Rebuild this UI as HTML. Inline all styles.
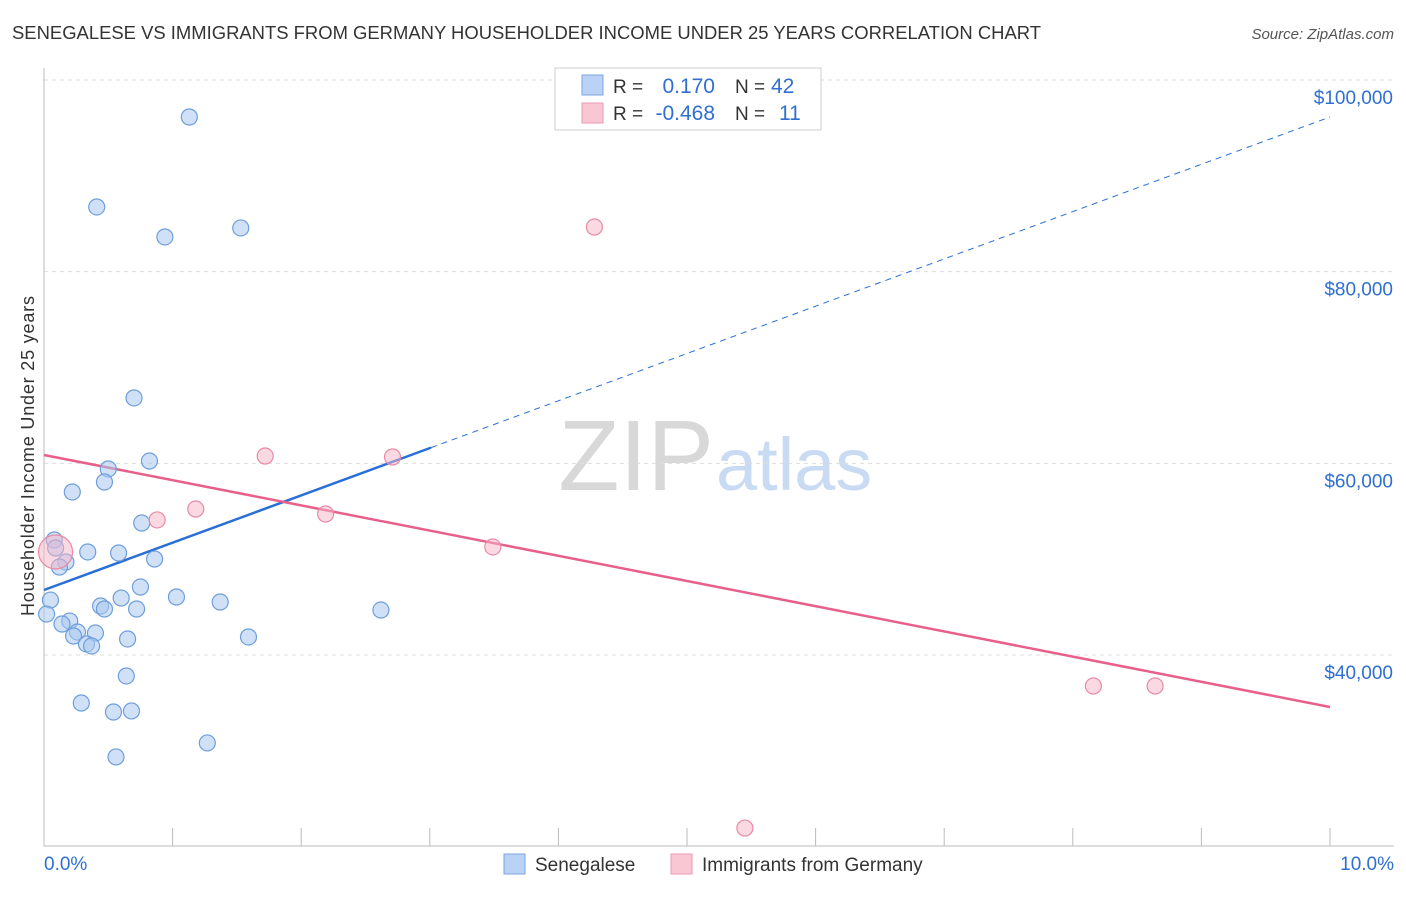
<!DOCTYPE html>
<html><head><meta charset="utf-8"><style>
body{margin:0;background:#fff;font-family:"Liberation Sans",sans-serif;}
svg text{font-family:"Liberation Sans",sans-serif;}
</style></head><body>
<svg id="chart" width="1406" height="892" viewBox="0 0 1406 892" xmlns="http://www.w3.org/2000/svg">
<text x="12" y="39" font-size="18" fill="#333" textLength="1029" lengthAdjust="spacingAndGlyphs">SENEGALESE VS IMMIGRANTS FROM GERMANY HOUSEHOLDER INCOME UNDER 25 YEARS CORRELATION CHART</text>
<text x="1394" y="39" font-size="15" fill="#555" text-anchor="end" font-style="italic">Source: ZipAtlas.com</text>
<text x="0" y="0" transform="translate(34,456) rotate(-90)" font-size="18" fill="#333" text-anchor="middle" textLength="320">Householder Income Under 25 years</text>
<text x="714" y="490" font-size="100" fill="#d8d8d8" text-anchor="end" font-family="Liberation Serif">ZIP</text>
<text x="716" y="490" font-size="74" fill="#c9daf3">atlas</text>
<g id="grid"></g><g id="axes"></g><g id="lines"></g><g id="points"></g>
<g>
<rect x="555" y="68" width="266" height="62" fill="#fff" stroke="#ccc"/>
<rect x="582" y="75" width="21" height="20" fill="#b9d2f5" stroke="#7aa7e0"/>
<rect x="582" y="103" width="21" height="20" fill="#f9c6d4" stroke="#ec9ab3"/>
<text x="613" y="93" font-size="19" fill="#333">R =</text><text x="715" y="93" font-size="21" fill="#2e6fd1" text-anchor="end">0.170</text>
<text x="735" y="93" font-size="19" fill="#333">N =</text><text x="771" y="93" font-size="21" fill="#2e6fd1">42</text>
<text x="613" y="120" font-size="19" fill="#333">R =</text><text x="715" y="120" font-size="21" fill="#2e6fd1" text-anchor="end">-0.468</text>
<text x="735" y="120" font-size="19" fill="#333">N =</text><text x="779" y="120" font-size="21" fill="#2e6fd1">11</text>
</g>
<g>
<rect x="504" y="854" width="21" height="20" fill="#b9d2f5" stroke="#7aa7e0"/>
<text x="535" y="871" font-size="19" fill="#333">Senegalese</text>
<rect x="671" y="854" width="21" height="20" fill="#f9c6d4" stroke="#ec9ab3"/>
<text x="702" y="871" font-size="19" fill="#333">Immigrants from Germany</text>
</g>
</svg>
<script>
const yTicks=[40000,60000,80000,100000];
const yTickLabels=["$40,000","$60,000","$80,000","$100,000"];
const xTickLabels=["0.0%","10.0%"];
const blueX=[1.13,0.41,0.94,1.53,0.70,0.82,0.50,0.22,0.47,0.76,0.08,0.09,0.34,0.58,0.86,0.17,0.12,0.75,0.05,0.60,1.03,1.37,0.44,0.47,0.72,2.62,0.02,0.20,0.14,0.26,0.40,0.23,0.33,0.37,0.65,1.59,0.64,0.29,0.54,0.68,1.27,0.56];
const blueY=[96140,86750,83620,84560,66820,60240,59410,57010,58050,53770,52000,51160,50750,50640,50010,49700,49180,47090,45730,45940,46050,45530,45110,44800,44800,44690,44270,43540,43230,42400,42290,41980,41150,40940,41670,41880,37810,34990,34050,34160,30820,29360];
const pinkX=[0.09,4.28,1.72,2.71,1.18,0.88,2.19,3.49,8.16,8.64,5.45];
const pinkY=[50750,84660,60760,60660,55230,54090,54710,51270,36760,36760,21940];
const blueTrend=[46780,96140]; const blueSolidEnd=3.01;
const pinkTrend=[60870,34570];
const NS="http://www.w3.org/2000/svg";
const X=v=>44+v*128.6;
const Y=v=>80+(100000-v)*0.009583;
function mk(tag,attrs,parent){const e=document.createElementNS(NS,tag);for(const k in attrs)e.setAttribute(k,attrs[k]);document.getElementById(parent).appendChild(e);return e;}
yTicks.forEach((t,i)=>{
  const l=mk('line',{x1:44,x2:1394,y1:Y(t),y2:Y(t),stroke:'#ddd','stroke-dasharray':'4,4'},'grid');
  
  
  const tx=mk('text',{x:1393,y:Y(t)+24,'font-size':19,fill:'#2e6fd1','text-anchor':'end'},'axes');
  tx.textContent=yTickLabels[i];
  
  
});
const ax=mk('line',{x1:44,x2:44,y1:68,y2:846,stroke:'#bbb'},'axes');


const bx=mk('line',{x1:44,x2:1394,y1:846,y2:846,stroke:'#bbb'},'axes');


for(let i=0;i<=10;i++){
  const t=mk('line',{x1:X(i),x2:X(i),y1:828,y2:846,stroke:'#bbb'},'axes');
  
  
}
[[0,'start',44],[10,'end',1394]].forEach((d,i)=>{
  const t=mk('text',{x:d[2],y:870,'font-size':19,fill:'#2e6fd1','text-anchor':d[1]},'axes');
  t.textContent=xTickLabels[i];
  
  
});
const by=x=>blueTrend[0]+(blueTrend[1]-blueTrend[0])*x/10;
const b1=mk('line',{x1:X(0),y1:Y(by(0)),x2:X(blueSolidEnd),y2:Y(by(blueSolidEnd)),stroke:'#2a6fd6','stroke-width':2.5},'lines');


const b2=mk('line',{x1:X(blueSolidEnd),y1:Y(by(blueSolidEnd)),x2:X(10),y2:Y(by(10)),stroke:'#2a6fd6','stroke-width':1,'stroke-dasharray':'6,5'},'lines');


const p1=mk('line',{x1:X(0),y1:Y(pinkTrend[0]),x2:X(10),y2:Y(pinkTrend[1]),stroke:'#e8608a','stroke-width':2.5},'lines');


blueX.forEach((x,i)=>{
  const c=mk('circle',{cx:X(x),cy:Y(blueY[i]),r:8,fill:'rgba(170,200,240,0.55)',stroke:'#6d9edc','stroke-width':1.2},'points');
  
  
});
pinkX.forEach((x,i)=>{
  const c=mk('circle',{cx:X(x),cy:Y(pinkY[i]),r:i===0?17:8,fill:'rgba(246,180,200,0.5)',stroke:'#e88aa5','stroke-width':1.2},'points');
  
  
});
</script>
</body></html>
